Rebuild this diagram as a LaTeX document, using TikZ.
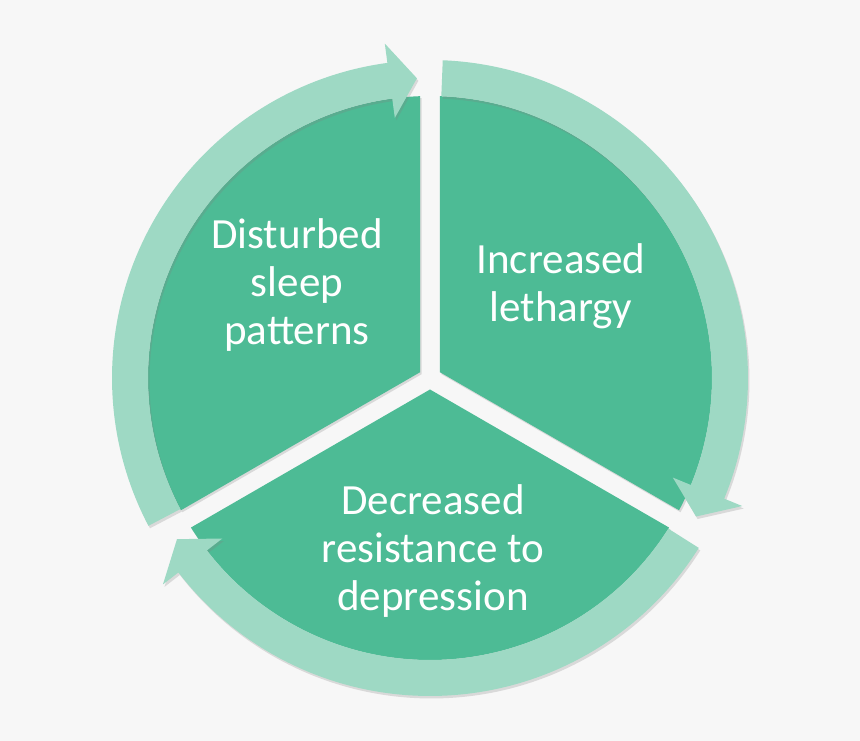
\documentclass[tikz,border=0pt]{standalone}
\usepackage{fontspec}
\setmainfont{Carlito}
\usepackage{tikz}
\usetikzlibrary{shadows}
\definecolor{paper}{RGB}{247,247,247}
\definecolor{leaf}{RGB}{77,187,149}
\definecolor{mint}{RGB}{158,217,196}

\begin{document}
\begin{tikzpicture}[x=0.02cm,y=0.02cm,
  wedge/.style={fill=leaf,drop shadow={shadow xshift=0.3mm,shadow yshift=-0.4mm,opacity=0.25}},
  ring/.style={fill=mint,drop shadow={shadow xshift=0.3mm,shadow yshift=-0.5mm,opacity=0.25}},
  lbl/.style={text=white,align=center,font=\fontsize{24.5}{27.2}\selectfont}]
\fill[paper] (0,0) rectangle (860,741);
\begin{scope}[shift={(430,363)}]
% three slices, gap of 20px between them
\foreach \t in {150,30,270}{
  \pgfmathsetmacro\p{\t+60-2.03}
  \pgfmathsetmacro\q{\t-60+2.03}
  \path[wedge] (\t:11.5) -- (\p:282) arc[start angle=\p,end angle=\q,radius=282] -- cycle;
}
% curved arrows round the rim
\foreach \a in {207.7,87.7,-32.3}{
  \pgfmathsetmacro\b{\a-115.2}
  \pgfmathsetmacro\h{\b+5.2}
  \path[ring] (\a:318) arc[start angle=\a,end angle=\h,radius=318]
    -- (\h:337.5) -- (\b:300) -- (\h:262.5) -- (\h:282)
    arc[start angle=\h,end angle=\a,radius=282] -- cycle;
}
\end{scope}
\node[lbl] (sleep) at (297,456) {Disturbed\\sleep\\patterns};
\node[lbl] (lethargy) at (561,455) {Increased\\lethargy};
\node[lbl] (depress) at (433,190) {Decreased\\resistance to\\depression};
\end{tikzpicture}
\end{document}
